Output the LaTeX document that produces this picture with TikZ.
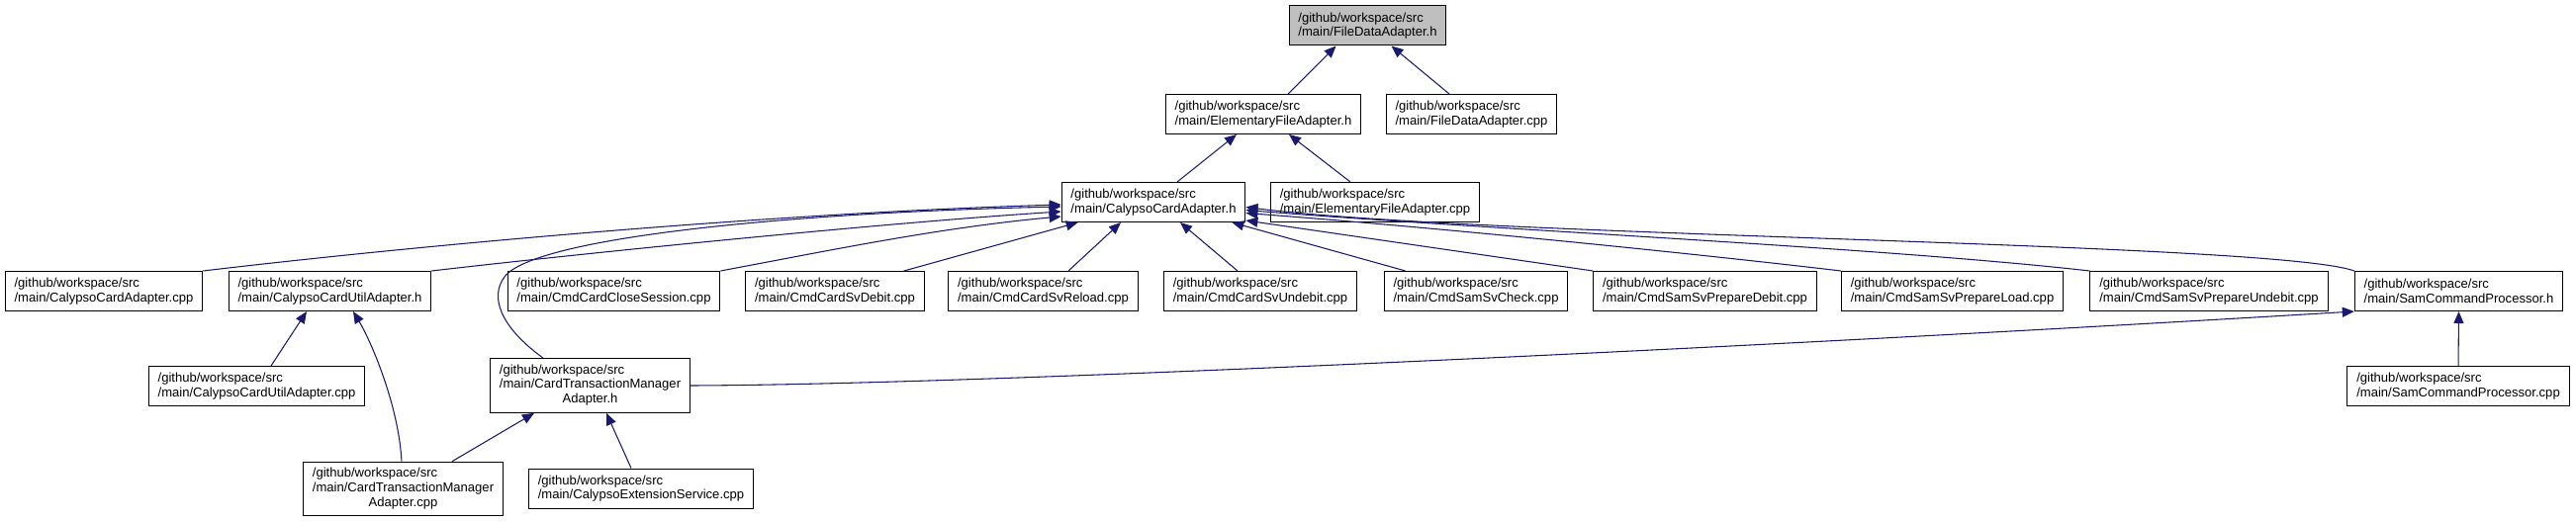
\documentclass[tikz,border=0pt]{standalone}
\usepackage{fontspec}
\setmainfont{Liberation Sans}
\usetikzlibrary{arrows.meta, calc}
\definecolor{depblue}{HTML}{191970}
\definecolor{curgray}{HTML}{BFBFBF}

\begin{document}
\begin{tikzpicture}[
        x=0.75pt, y=-0.75pt,
        >={Triangle[length=9pt, width=7.5pt]},
        file/.style={rectangle, draw=black, line width=0.75pt, fill=white, inner xsep=7pt, inner ysep=0pt,
            minimum height=30pt, align=left, font=\fontsize{9.8}{11}\selectfont},
        tallfile/.style={file, minimum height=41pt},
        current/.style={file, fill=curgray},
        dep/.style={->, draw=depblue, line width=0.8pt}
    ]
        \useasboundingbox (0,0) rectangle (2604,528);

        \node[current] (fdah) at (1382.5,26) {/github/workspace/src\\/main/FileDataAdapter.h};

        \node[file] (efah)   at (1277,115.5)   {/github/workspace/src\\/main/ElementaryFileAdapter.h};
        \node[file] (fdacpp) at (1487.5,115.5) {/github/workspace/src\\/main/FileDataAdapter.cpp};

        \node[file] (ccah)   at (1166,204.5) {/github/workspace/src\\/main/CalypsoCardAdapter.h};
        \node[file] (efacpp) at (1390,204.5) {/github/workspace/src\\/main/ElementaryFileAdapter.cpp};

        \node[file] (ccacpp)      at (105,294.5)    {/github/workspace/src\\/main/CalypsoCardAdapter.cpp};
        \node[file] (cuah)        at (333.5,294.5)  {/github/workspace/src\\/main/CalypsoCardUtilAdapter.h};
        \node[file] (closesess)   at (620.5,294.5)  {/github/workspace/src\\/main/CmdCardCloseSession.cpp};
        \node[file] (svdebit)     at (844,294.5)    {/github/workspace/src\\/main/CmdCardSvDebit.cpp};
        \node[file] (svreload)    at (1054.5,294.5) {/github/workspace/src\\/main/CmdCardSvReload.cpp};
        \node[file] (svundebit)   at (1274,294.5)   {/github/workspace/src\\/main/CmdCardSvUndebit.cpp};
        \node[file] (samcheck)    at (1492,294.5)   {/github/workspace/src\\/main/CmdSamSvCheck.cpp};
        \node[file] (prepdebit)   at (1723.5,294.5) {/github/workspace/src\\/main/CmdSamSvPrepareDebit.cpp};
        \node[file] (prepload)    at (1973.5,294.5) {/github/workspace/src\\/main/CmdSamSvPrepareLoad.cpp};
        \node[file] (prepundebit) at (2233,294.5)   {/github/workspace/src\\/main/CmdSamSvPrepareUndebit.cpp};
        \node[file] (samh)        at (2485.5,294.5) {/github/workspace/src\\/main/SamCommandProcessor.h};

        \node[file] (cuacpp) at (259.5,390.5) {/github/workspace/src\\/main/CalypsoCardUtilAdapter.cpp};
        \node[tallfile] (ctmah) at (596.5,390) {\begin{tabular}{@{}l@{}}/github/workspace/src\\/main/CardTransactionManager\\\multicolumn{1}{@{}c@{}}{Adapter.h}\end{tabular}};
        \node[file] (samcpp) at (2485,390.5) {/github/workspace/src\\/main/SamCommandProcessor.cpp};

        \node[tallfile] (ctmacpp) at (407.5,494.5) {\begin{tabular}{@{}l@{}}/github/workspace/src\\/main/CardTransactionManager\\\multicolumn{1}{@{}c@{}}{Adapter.cpp}\end{tabular}};
        \node[file] (extsvc) at (648,494) {/github/workspace/src\\/main/CalypsoExtensionService.cpp};

        \draw[dep] ($(efah.north)+(25,0)$) -- ($(fdah.south west)+(48,0)$);
        \draw[dep] ($(fdacpp.north)+(-22.5,0)$) -- ($(fdah.south)+(24,0)$);
        \draw[dep] ($(ccah.north)+(24,0)$) -- ($(efah.south)+(-27,0)$);
        \draw[dep] ($(efacpp.north)+(-25,0)$) -- ($(efah.south)+(26,0)$);

        \draw[dep] (ccacpp.north east) .. controls (450,245) and (800,215) .. ($(ccah.west)+(0,2.5)$);
        \draw[dep] (cuah.north east) .. controls (600,255) and (900,225) .. ($(ccah.west)+(0,9.5)$);
        \draw[dep] (closesess.north east) .. controls (830,255) and (950,230) .. ($(ccah.west)+(0,14.5)$);
        \draw[dep] ($(ctmah.north west)+(54,0)$) .. controls (505,330) and (495,300) .. (510,280)
            .. controls (540,240) and (800,215) .. ($(ccah.west)+(0,4.5)$);
        \draw[dep] ($(svdebit.north east)+(-21,0)$) -- ($(ccah.south west)+(17,0)$);
        \draw[dep] ($(svreload.north)+(25.5,0)$) -- ($(ccah.south)+(-33,0)$);
        \draw[dep] ($(svundebit.north)+(-23,0)$) -- ($(ccah.south)+(27,0)$);
        \draw[dep] ($(samcheck.north west)+(22,0)$) -- ($(ccah.south east)+(-14,0)$);
        \draw[dep] (prepdebit.north west) -- ($(ccah.south east)+(0,-2)$);
        \draw[dep] (prepload.north west) .. controls (1700,255) and (1450,230) .. ($(ccah.east)+(0,11)$);
        \draw[dep] (prepundebit.north west) .. controls (1900,250) and (1500,232) .. ($(ccah.east)+(0,8)$);
        \draw[dep] (samh.north west) .. controls (2300,245) and (1500,240) .. ($(ccah.east)+(0,5)$);

        \draw[dep] ($(cuacpp.north)+(14.5,0)$) -- ($(cuah.south)+(-23.5,0)$);
        \draw[dep] ($(ctmacpp.north)+(-1.5,0)$) .. controls (403,410) and (375,345) .. ($(cuah.south)+(23.5,0)$);
        \draw[dep] ($(ctmacpp.north)+(49.5,0)$) -- ($(ctmah.south)+(-56.5,0)$);
        \draw[dep] ($(extsvc.north)+(-10,0)$) -- ($(ctmah.south)+(16.5,0)$);
        \draw[dep] (ctmah.east) .. controls (1000,389) and (1800,350) .. (samh.south west);
        \draw[dep] (samcpp.north) -- (samh.south);
    \end{tikzpicture}
\end{document}
